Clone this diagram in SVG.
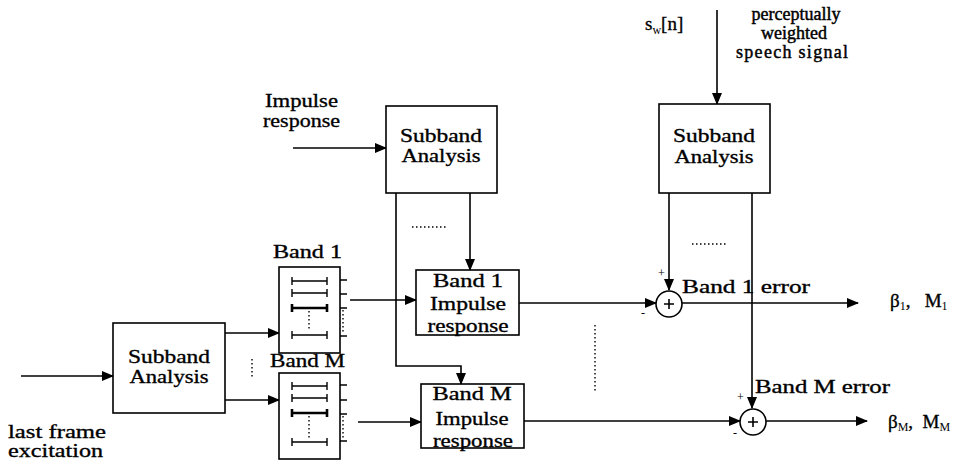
<svg xmlns="http://www.w3.org/2000/svg" width="962" height="464" viewBox="0 0 962 464">
<style>
.ln{fill:none;stroke:#000;stroke-width:1.6}
.bx{fill:#fff;stroke:#000;stroke-width:1.6}
.dot{fill:none;stroke:#000;stroke-width:1.4;stroke-dasharray:1.5 2.5}
.t{font-family:"Liberation Serif","Times New Roman",serif;font-size:19px;fill:#000;stroke:#000;stroke-width:0.35}
.p{font-size:18px;stroke-width:0.45}
.s{font-family:"Liberation Serif","Times New Roman",serif;font-size:12px;fill:#000}
.m{text-anchor:middle}
.ib{fill:none;stroke:#000;stroke-width:1.4}
.ibk{fill:none;stroke:#000;stroke-width:2.6}
</style>
<defs>
<marker id="ah" markerWidth="12" markerHeight="10" refX="11" refY="5" orient="auto" markerUnits="userSpaceOnUse">
<path d="M0,0 L12,5 L0,10 Z" fill="#000"/>
</marker>
</defs>
<rect width="962" height="464" fill="#fff"/>

<g id="connectors">
<line class="ln" x1="21" y1="376" x2="113" y2="376" marker-end="url(#ah)"/>
<line class="ln" x1="293" y1="148" x2="386" y2="148" marker-end="url(#ah)"/>
<line class="ln" x1="717" y1="10" x2="717" y2="104" marker-end="url(#ah)"/>
<line class="ln" x1="225" y1="333" x2="279" y2="333" marker-end="url(#ah)"/>
<line class="ln" x1="225" y1="400" x2="279" y2="400" marker-end="url(#ah)"/>
<line class="ln" x1="350" y1="300" x2="416" y2="300" marker-end="url(#ah)"/>
<line class="ln" x1="358" y1="422" x2="421" y2="422" marker-end="url(#ah)"/>
<line class="ln" x1="470" y1="193" x2="470" y2="270" marker-end="url(#ah)"/>
<polyline class="ln" points="396,193 396,366 461,366 461,384" marker-end="url(#ah)"/>
<line class="ln" x1="519" y1="303" x2="656" y2="303" marker-end="url(#ah)"/>
<line class="ln" x1="524" y1="421" x2="740" y2="421" marker-end="url(#ah)"/>
<line class="ln" x1="669" y1="193" x2="669" y2="290" marker-end="url(#ah)"/>
<line class="ln" x1="752" y1="193" x2="752" y2="408" marker-end="url(#ah)"/>
<line class="ln" x1="682" y1="303" x2="858" y2="303" marker-end="url(#ah)"/>
<line class="ln" x1="766" y1="421" x2="867" y2="421" marker-end="url(#ah)"/>
<line class="dot" x1="412" y1="227" x2="448" y2="227"/>
<line class="dot" x1="692" y1="244" x2="728" y2="244"/>
<line class="dot" x1="595" y1="325" x2="595" y2="392"/>
<line class="dot" x1="252" y1="359" x2="252" y2="378"/>
</g>

<g id="subband-left">
<rect class="bx" x="113" y="323" width="112" height="90"/>
<text class="t m" x="169" y="363" textLength="82" lengthAdjust="spacingAndGlyphs">Subband</text>
<text class="t m" x="169" y="383" textLength="79" lengthAdjust="spacingAndGlyphs">Analysis</text>
</g>

<g id="label-last-frame">
<text class="t" x="8" y="438" textLength="98" lengthAdjust="spacingAndGlyphs">last  frame</text>
<text class="t" x="8" y="457" textLength="95" lengthAdjust="spacingAndGlyphs">excitation</text>
</g>

<g id="subband-top">
<rect class="bx" x="386" y="106" width="111" height="87"/>
<text class="t m" x="441" y="142" textLength="82" lengthAdjust="spacingAndGlyphs">Subband</text>
<text class="t m" x="441" y="162" textLength="79" lengthAdjust="spacingAndGlyphs">Analysis</text>
</g>

<g id="label-impulse">
<text class="t" x="265" y="107" textLength="73" lengthAdjust="spacingAndGlyphs">Impulse</text>
<text class="t" x="263" y="127" textLength="77" lengthAdjust="spacingAndGlyphs">response</text>
</g>

<g id="subband-right">
<rect class="bx" x="659" y="104" width="111" height="89"/>
<text class="t m" x="714" y="142" textLength="82" lengthAdjust="spacingAndGlyphs">Subband</text>
<text class="t m" x="714" y="163" textLength="79" lengthAdjust="spacingAndGlyphs">Analysis</text>
</g>

<g id="label-sw">
<text class="t" x="645" y="30">s<tspan class="s" dy="4" stroke="none">w</tspan><tspan dy="-4">[n]</tspan></text>
<text class="t p m" x="796" y="20">perceptually</text>
<text class="t p m" x="794" y="39">weighted</text>
<text class="t p m" x="792" y="58" textLength="112" lengthAdjust="spacing">speech signal</text>
</g>

<g id="band1-bank">
<text class="t" x="273" y="258" textLength="69" lengthAdjust="spacingAndGlyphs">Band  1</text>
<rect class="bx" x="279" y="267" width="61" height="86"/>
<path class="ib" d="M292,281 H327 M292,277 V285 M327,277 V285 M292,293 H327 M292,289 V297 M327,289 V297 M292,335 H327 M292,331 V339 M327,331 V339"/>
<path class="ibk" d="M292,308 H327 M292,304 V312 M327,304 V312"/>
<line class="dot" x1="309" y1="311" x2="309" y2="331"/>
<path class="ln" d="M340,280 H347 M340,294 H347 M340,308 H347 M340,336 H347"/>
<line class="dot" x1="343" y1="310" x2="343" y2="334"/>
</g>

<g id="bandM-bank">
<text class="t" x="270" y="367" textLength="75" lengthAdjust="spacingAndGlyphs">Band  M</text>
<rect class="bx" x="279" y="373" width="61" height="86"/>
<path class="ib" d="M292,386 H327 M292,382 V390 M327,382 V390 M292,398 H327 M292,394 V402 M327,394 V402 M292,442 H327 M292,438 V446 M327,438 V446"/>
<path class="ibk" d="M292,413 H327 M292,409 V417 M327,409 V417"/>
<line class="dot" x1="309" y1="416" x2="309" y2="438"/>
<path class="ln" d="M340,385 H347 M340,400 H347 M340,414 H347 M340,441 H347"/>
<line class="dot" x1="343" y1="416" x2="343" y2="439"/>
</g>

<g id="ir-band1">
<rect class="bx" x="416" y="270" width="103" height="65"/>
<text class="t m" x="468" y="287" textLength="70" lengthAdjust="spacingAndGlyphs">Band  1</text>
<text class="t m" x="468" y="310" textLength="76" lengthAdjust="spacingAndGlyphs">Impulse</text>
<text class="t m" x="468" y="332" textLength="81" lengthAdjust="spacingAndGlyphs">response</text>
</g>

<g id="ir-bandM">
<rect class="bx" x="421" y="384" width="103" height="64"/>
<text class="t m" x="472" y="400" textLength="79" lengthAdjust="spacingAndGlyphs">Band  M</text>
<text class="t m" x="472" y="425" textLength="73" lengthAdjust="spacingAndGlyphs">Impulse</text>
<text class="t m" x="473" y="447" textLength="80" lengthAdjust="spacingAndGlyphs">response</text>
</g>

<g id="sum1">
<circle class="bx" cx="669" cy="304" r="13"/>
<path class="ln" d="M664,304 H674 M669,299 V309"/>
<text class="s" x="658" y="277">+</text>
<text class="s" x="641" y="317">-</text>
<text class="t" x="682" y="293" textLength="128" lengthAdjust="spacingAndGlyphs">Band  1  error</text>
</g>

<g id="sumM">
<circle class="bx" cx="753" cy="422" r="13"/>
<path class="ln" d="M748,422 H758 M753,417 V427"/>
<text class="s" x="737" y="401">+</text>
<text class="s" x="733" y="437">-</text>
<text class="t" x="755" y="393" textLength="135" lengthAdjust="spacingAndGlyphs">Band  M  error</text>
</g>

<g id="out1">
<text class="t" x="890" y="307" xml:space="preserve">β<tspan class="s" dy="3" stroke="none">1</tspan><tspan dy="-3">,   M</tspan><tspan class="s" dy="3" stroke="none">1</tspan></text>
</g>
<g id="outM">
<text class="t" x="888" y="428" xml:space="preserve">β<tspan class="s" dy="3" stroke="none">M</tspan><tspan dy="-3">,  M</tspan><tspan class="s" dy="3" stroke="none">M</tspan></text>
</g>
</svg>
